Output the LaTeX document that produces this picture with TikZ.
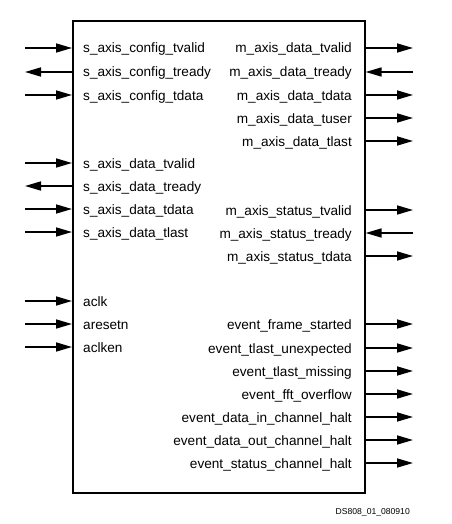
\documentclass[tikz,border=0pt]{standalone}
\usepackage{fontspec}
\setmainfont{Liberation Sans}
\usetikzlibrary{arrows.meta}
\begin{document}
\begin{tikzpicture}[x=1pt,y=-1pt,
  sig/.style={line width=1.6pt,-{Triangle[length=16pt,width=9pt]}},
  lbl/.style={inner sep=0pt,font=\fontsize{13.6}{16}\selectfont,anchor=base west},
  rlbl/.style={inner sep=0pt,font=\fontsize{13.6}{16}\selectfont,anchor=base east},
  blk/.style={draw,line width=1.6pt,inner sep=0pt}]
\useasboundingbox (0,0) rectangle (451,524);
\node[blk,minimum width=292pt,minimum height=472pt,anchor=north west] (box) at (72,20) {};
% left side: y, name, dir (1=in, 0=out)
\foreach \y/\t/\d [count=\i] in {48/s\_axis\_config\_tvalid/1,72/s\_axis\_config\_tready/0,95/s\_axis\_config\_tdata/1,
  163/s\_axis\_data\_tvalid/1,186/s\_axis\_data\_tready/0,209/s\_axis\_data\_tdata/1,232/s\_axis\_data\_tlast/1,
  301/aclk/1,324/aresetn/1,347/aclken/1}{
  \coordinate (lo\i) at (25,\y);
  \coordinate (li\i) at (box.west |- 0,\y);
  \node[lbl] (ll\i) at (83,\y+5) {\t};
  \ifnum\d=1 \draw[sig] (lo\i) -- (li\i); \else \draw[sig] (li\i) -- (lo\i); \fi
}
\foreach \y/\t/\d [count=\i] in {48/m\_axis\_data\_tvalid/1,72/m\_axis\_data\_tready/0,95/m\_axis\_data\_tdata/1,
  118/m\_axis\_data\_tuser/1,141/m\_axis\_data\_tlast/1,
  210/m\_axis\_status\_tvalid/1,233/m\_axis\_status\_tready/0,256/m\_axis\_status\_tdata/1,
  324/event\_frame\_started/1,348/event\_tlast\_unexpected/1,371/event\_tlast\_missing/1,394/event\_fft\_overflow/1,
  417/event\_data\_in\_channel\_halt/1,440/event\_data\_out\_channel\_halt/1,463/event\_status\_channel\_halt/1}{
  \coordinate (ro\i) at (413,\y);
  \coordinate (ri\i) at (box.east |- 0,\y);
  \node[rlbl] (rl\i) at (352,\y+5) {\t};
  \ifnum\d=1 \draw[sig] (ri\i) -- (ro\i); \else \draw[sig] (ro\i) -- (ri\i); \fi
}
\node[inner sep=0pt,anchor=base east,font=\fontsize{8.6}{10}\selectfont] (tag) at (410,514) {DS808\_01\_080910};
\end{tikzpicture}
\end{document}
